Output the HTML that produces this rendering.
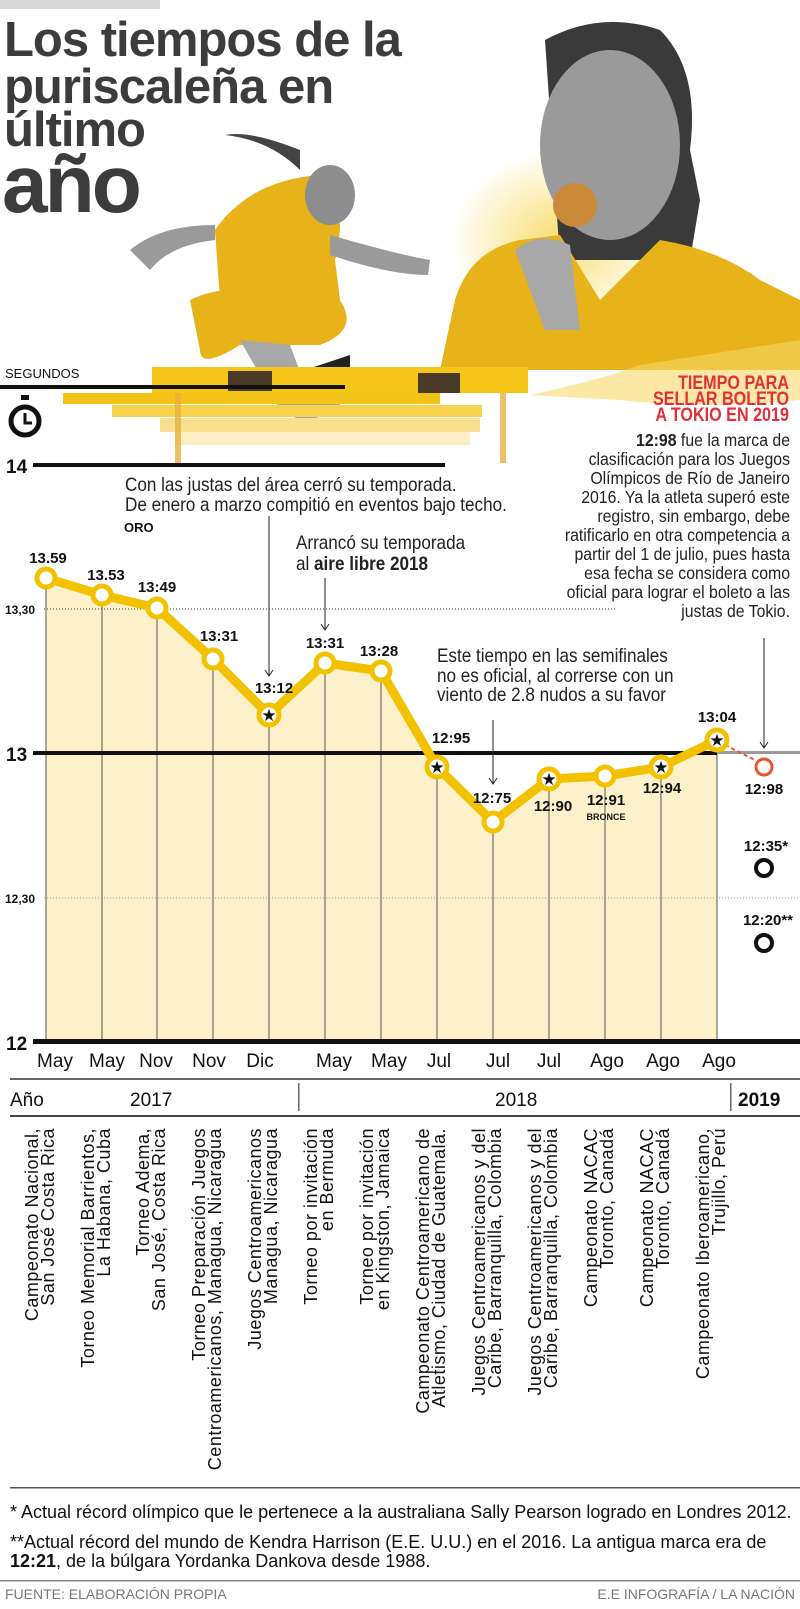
<!DOCTYPE html>
<html><head><meta charset="utf-8"><style>
html,body{margin:0;padding:0;background:#fff}
svg{display:block}
.n{font-family:"Liberation Sans Narrow","Liberation Sans",sans-serif}
.s{font-family:"Liberation Sans",sans-serif}
</style></head><body>
<svg width="800" height="1609" viewBox="0 0 800 1609" xmlns="http://www.w3.org/2000/svg">
<defs>
<radialGradient id="glow" cx="0.5" cy="0.5" r="0.5"><stop offset="0" stop-color="#f7d54a" stop-opacity="0.8"/><stop offset="1" stop-color="#f7d54a" stop-opacity="0"/></radialGradient>
</defs>
<rect x="0" y="0" width="160" height="9" fill="#d9d9d9"/>
<ellipse cx="560" cy="240" rx="110" ry="90" fill="url(#glow)"/>
<path d="M545 40 Q600 10 660 30 Q700 70 690 150 L700 200 L690 260 L560 260 Z" fill="#3a3a3a"/>
<ellipse cx="610" cy="145" rx="70" ry="95" fill="#9a9a9a"/>
<path d="M440 370 L455 300 Q470 250 520 240 L560 235 L600 300 L660 240 Q720 250 760 280 L800 300 L800 370 Z" fill="#e8b21a"/>
<path d="M515 250 Q540 230 570 245 L580 330 L545 330 Z" fill="#a8a8a8"/>
<circle cx="575" cy="205" r="22" fill="#c98a3a"/>
<path d="M215 230 Q250 180 320 175 Q350 200 335 260 L340 300 L300 310 L220 300 Z" fill="#e8b21a"/>
<ellipse cx="330" cy="195" rx="25" ry="30" fill="#8d8d8d"/>
<path d="M300 150 Q250 130 225 135 Q270 140 300 170 Z" fill="#444"/>
<path d="M130 250 Q160 225 215 225 L215 240 Q170 245 150 270 Z" fill="#9a9a9a"/>
<path d="M330 235 Q400 255 430 260 L428 275 Q390 275 330 255 Z" fill="#9a9a9a"/>
<path d="M190 300 Q230 280 280 300 L340 300 Q360 330 320 345 L240 345 Q200 370 200 350 Z" fill="#e8b21a"/>
<path d="M240 340 L290 345 L305 385 Q330 390 345 360 L355 380 Q340 420 300 420 L280 410 Z" fill="#a8a8a8"/>
<path d="M305 370 L350 355 L350 380 L315 400 Z" fill="#222"/>
<rect x="63" y="393" width="377" height="11" fill="#f3c418"/>
<rect x="112" y="405" width="370" height="12" fill="#f6d24e"/>
<rect x="160" y="418" width="320" height="14" fill="#f9e090"/>
<rect x="175" y="432" width="295" height="13" fill="#fcefc4"/>
<rect x="152" y="367" width="376" height="26" fill="#f5c518"/>
<rect x="228" y="371" width="44" height="20" fill="#4a3a28"/>
<rect x="418" y="373" width="42" height="20" fill="#4a3a28"/>
<rect x="175" y="393" width="6" height="70" fill="#e6b040" opacity="0.8"/>
<rect x="500" y="393" width="6" height="70" fill="#e6b040" opacity="0.8"/>
<path d="M530 395 Q600 380 640 365 L800 340 L800 400 Q700 410 620 400 Z" fill="#f7d968" opacity="0.6"/>
<g class="s" font-weight="bold" fill="#3c3c3c">
<text x="4" y="56" font-size="49" letter-spacing="-1">Los tiempos de la</text>
<text x="4" y="103" font-size="49" letter-spacing="-1">puriscaleña en</text>
<text x="4" y="146" font-size="49" letter-spacing="-1">último</text>
<text x="2" y="212" font-size="82" letter-spacing="-3">año</text>
</g>
<text x="5" y="378" class="s" font-size="13" fill="#111">SEGUNDOS</text>
<rect x="0" y="385" width="345" height="4" fill="#111"/>
<g fill="none" stroke="#111">
<circle cx="25" cy="421" r="14" stroke-width="5"/>
<path d="M25 413 V423 H32" stroke-width="3"/>
</g>
<rect x="21" y="395" width="8" height="5" fill="#111"/>
<g transform="translate(789,0) scale(0.85,1)" class="s" font-weight="bold" fill="#e0303a" font-size="19" text-anchor="end">
<text x="0" y="389">TIEMPO PARA</text><text x="0" y="405">SELLAR BOLETO</text><text x="0" y="421">A TOKIO EN 2019</text>
</g>
<g transform="translate(790,0) scale(0.88,1)" class="s" font-size="18" fill="#222" text-anchor="end">
<text x="0" y="446"><tspan font-weight="bold">12:98</tspan> fue la marca de</text>
<text x="0" y="465">clasificación para los Juegos</text>
<text x="0" y="484">Olímpicos de Río de Janeiro</text>
<text x="0" y="503">2016. Ya la atleta superó este</text>
<text x="0" y="522">registro, sin embargo, debe</text>
<text x="0" y="541">ratificarlo en otra competencia a</text>
<text x="0" y="560">partir del 1 de julio, pues hasta</text>
<text x="0" y="579">esa fecha se considera como</text>
<text x="0" y="598">oficial para lograr el boleto a las</text>
<text x="0" y="617">justas de Tokio.</text>
</g>
<path d="M46 578 L102 595 L157 608 L213 659 L269 715 L325 663 L381 671 L437 767 L493 822 L549 779 L605 776 L661 767 L717 740 L717 1042 L46 1042 Z" fill="#fdf1cc"/>
<g stroke="#555" stroke-width="1">
<line x1="46" y1="578" x2="46" y2="1042"/><line x1="102" y1="595" x2="102" y2="1042"/><line x1="157" y1="608" x2="157" y2="1042"/><line x1="213" y1="659" x2="213" y2="1042"/><line x1="269" y1="715" x2="269" y2="1042"/><line x1="325" y1="663" x2="325" y2="1042"/><line x1="381" y1="671" x2="381" y2="1042"/><line x1="437" y1="767" x2="437" y2="1042"/><line x1="493" y1="822" x2="493" y2="1042"/><line x1="549" y1="779" x2="549" y2="1042"/><line x1="605" y1="776" x2="605" y2="1042"/><line x1="661" y1="767" x2="661" y2="1042"/><line x1="717" y1="740" x2="717" y2="1042"/>
</g>
<line x1="44" y1="609" x2="615" y2="609" stroke="#333" stroke-width="1" stroke-dasharray="1,2"/>
<line x1="44" y1="898" x2="800" y2="898" stroke="#999" stroke-width="1" stroke-dasharray="1,2"/>
<rect x="33" y="463" width="412" height="4" fill="#111"/>
<rect x="33" y="751" width="684" height="4" fill="#111"/>
<rect x="717" y="751" width="83" height="3" fill="#999"/>
<rect x="33" y="1039" width="767" height="5" fill="#111"/>
<g class="s" font-weight="bold" fill="#111">
<text x="6" y="473" font-size="19">14</text>
<text x="6" y="761" font-size="19">13</text>
<text x="6" y="1050" font-size="19">12</text>
<text x="5" y="614" font-size="12">13,30</text>
<text x="5" y="903" font-size="12">12,30</text>
</g>
<g class="s" font-size="19" fill="#222">
<text transform="translate(125,0) scale(0.9,1)" x="0" y="491">Con las justas del área cerró su temporada.</text>
<text transform="translate(125,0) scale(0.9,1)" x="0" y="511">De enero a marzo compitió en eventos bajo techo.</text>
<text transform="translate(296,0) scale(0.9,1)" x="0" y="549">Arrancó su temporada</text>
<text transform="translate(296,0) scale(0.9,1)" x="0" y="570">al <tspan font-weight="bold">aire libre 2018</tspan></text>
<text transform="translate(437,0) scale(0.9,1)" x="0" y="662">Este tiempo en las semifinales</text>
<text transform="translate(437,0) scale(0.9,1)" x="0" y="682">no es oficial, al correrse con un</text>
<text transform="translate(437,0) scale(0.9,1)" x="0" y="701">viento de 2.8 nudos a su favor</text>
</g>
<text x="124" y="532" class="n" font-weight="bold" font-size="13" fill="#111">ORO</text>
<g stroke="#222" stroke-width="1" fill="none">
<line x1="269" y1="516" x2="269" y2="676"/><path d="M265 670 L269 676 L273 670"/>
<line x1="325" y1="578" x2="325" y2="630"/><path d="M321 624 L325 630 L329 624"/>
<line x1="493" y1="720" x2="493" y2="784"/><path d="M489 778 L493 784 L497 778"/>
<line x1="764" y1="638" x2="764" y2="748"/><path d="M760 742 L764 748 L768 742"/>
</g>
<polyline points="46,578 102,595 157,608 213,659 269,715 325,663 381,671 437,767 493,822 549,779 605,776 661,767 717,740" fill="none" stroke="#f2c200" stroke-width="9" stroke-linejoin="round"/>
<line x1="725" y1="745" x2="755" y2="760" stroke="#e8552a" stroke-width="2" stroke-dasharray="4,3"/>
<g fill="#fff" stroke="#f2c200" stroke-width="5">
<circle cx="46" cy="578" r="9"/><circle cx="102" cy="595" r="9"/><circle cx="157" cy="608" r="9"/><circle cx="213" cy="659" r="9"/><circle cx="269" cy="715" r="10"/><circle cx="325" cy="663" r="9"/><circle cx="381" cy="671" r="9"/><circle cx="437" cy="767" r="10"/><circle cx="493" cy="822" r="9"/><circle cx="549" cy="779" r="10"/><circle cx="605" cy="776" r="9"/><circle cx="661" cy="767" r="10"/><circle cx="717" cy="740" r="10"/>
</g>
<g fill="#111" font-size="17" text-anchor="middle" class="s">
<text x="269" y="721">★</text><text x="437" y="773">★</text><text x="549" y="785">★</text><text x="661" y="773">★</text><text x="717" y="746">★</text>
</g>
<circle cx="764" cy="767" r="8" fill="none" stroke="#e8552a" stroke-width="3"/>
<circle cx="764" cy="868" r="8" fill="none" stroke="#111" stroke-width="4"/>
<circle cx="764" cy="943" r="8" fill="none" stroke="#111" stroke-width="4"/>
<g class="n" font-weight="bold" font-size="15" fill="#111" text-anchor="middle">
<text x="48" y="563">13.59</text><text x="106" y="580">13.53</text><text x="157" y="592">13:49</text><text x="219" y="641">13:31</text><text x="274" y="693">13:12</text><text x="325" y="648">13:31</text><text x="379" y="656">13:28</text><text x="451" y="743">12:95</text><text x="492" y="803">12:75</text><text x="553" y="811">12:90</text><text x="606" y="805">12:91</text><text x="662" y="793">12:94</text><text x="717" y="722">13:04</text><text x="764" y="794">12:98</text><text x="766" y="851">12:35*</text><text x="768" y="925">12:20**</text>
<text x="606" y="820" font-size="9">BRONCE</text>
</g>
<g class="n" font-size="19" fill="#111" text-anchor="middle">
<text x="55" y="1067">May</text><text x="107" y="1067">May</text><text x="156" y="1067">Nov</text><text x="209" y="1067">Nov</text><text x="260" y="1067">Dic</text><text x="334" y="1067">May</text><text x="389" y="1067">May</text><text x="439" y="1067">Jul</text><text x="498" y="1067">Jul</text><text x="549" y="1067">Jul</text><text x="607" y="1067">Ago</text><text x="663" y="1067">Ago</text><text x="719" y="1067">Ago</text>
</g>
<rect x="10" y="1078" width="790" height="2" fill="#666"/>
<rect x="10" y="1115" width="790" height="2" fill="#444"/>
<rect x="298" y="1083" width="1.5" height="28" fill="#666"/>
<rect x="730" y="1083" width="1.5" height="28" fill="#666"/>
<g class="n" font-size="19" fill="#111">
<text x="10" y="1106">Año</text><text x="130" y="1106">2017</text><text x="495" y="1106">2018</text><text x="738" y="1106" font-weight="bold">2019</text>
</g>
<g class="s" font-size="18" letter-spacing="0.5" fill="#111" text-anchor="end">
<text transform="translate(38,1128) rotate(-90)">Campeonato Nacional,</text><text transform="translate(54,1128) rotate(-90)">San José Costa Rica</text>
<text transform="translate(94,1128) rotate(-90)">Torneo Memorial Barrientos,</text><text transform="translate(110,1128) rotate(-90)">La Habana, Cuba</text>
<text transform="translate(149,1128) rotate(-90)">Torneo Adema,</text><text transform="translate(165,1128) rotate(-90)">San José, Costa Rica</text>
<text transform="translate(205,1128) rotate(-90)">Torneo Preparación Juegos</text><text transform="translate(221,1128) rotate(-90)">Centroamericanos, Managua, Nicaragua</text>
<text transform="translate(261,1128) rotate(-90)">Juegos Centroamericanos</text><text transform="translate(277,1128) rotate(-90)">Managua, Nicaragua</text>
<text transform="translate(317,1128) rotate(-90)">Torneo por invitación</text><text transform="translate(333,1128) rotate(-90)">en Bermuda</text>
<text transform="translate(373,1128) rotate(-90)">Torneo por invitación</text><text transform="translate(389,1128) rotate(-90)">en Kingston, Jamaica</text>
<text transform="translate(429,1128) rotate(-90)">Campeonato Centroamericano de</text><text transform="translate(445,1128) rotate(-90)">Atletismo, Ciudad de Guatemala.</text>
<text transform="translate(485,1128) rotate(-90)">Juegos Centroamericanos y del</text><text transform="translate(501,1128) rotate(-90)">Caribe, Barranquilla, Colombia</text>
<text transform="translate(541,1128) rotate(-90)">Juegos Centroamericanos y del</text><text transform="translate(557,1128) rotate(-90)">Caribe, Barranquilla, Colombia</text>
<text transform="translate(597,1128) rotate(-90)">Campeonato NACAC</text><text transform="translate(613,1128) rotate(-90)">Toronto, Canadá</text>
<text transform="translate(653,1128) rotate(-90)">Campeonato NACAC</text><text transform="translate(669,1128) rotate(-90)">Toronto, Canadá</text>
<text transform="translate(709,1128) rotate(-90)">Campeonato Iberoamericano,</text><text transform="translate(725,1128) rotate(-90)">Trujillo, Perú</text>
</g>
<rect x="10" y="1487" width="790" height="1.5" fill="#555"/>
<g class="s" font-size="18" fill="#111">
<text x="10" y="1518">* Actual récord olímpico que le pertenece a la australiana Sally Pearson logrado en Londres 2012.</text>
<text x="10" y="1548">**Actual récord del mundo de Kendra Harrison (E.E. U.U.) en el 2016. La antigua marca era de</text>
<text x="10" y="1567"><tspan font-weight="bold">12:21</tspan>, de la  búlgara Yordanka Dankova desde 1988.</text>
</g>
<rect x="0" y="1580" width="800" height="1.5" fill="#888"/>
<g class="n" font-size="14" fill="#777">
<text x="5" y="1599">FUENTE: ELABORACIÓN PROPIA</text>
<text x="795" y="1599" text-anchor="end">E.E INFOGRAFÍA / LA NACIÓN</text>
</g>
</svg>
</body></html>
